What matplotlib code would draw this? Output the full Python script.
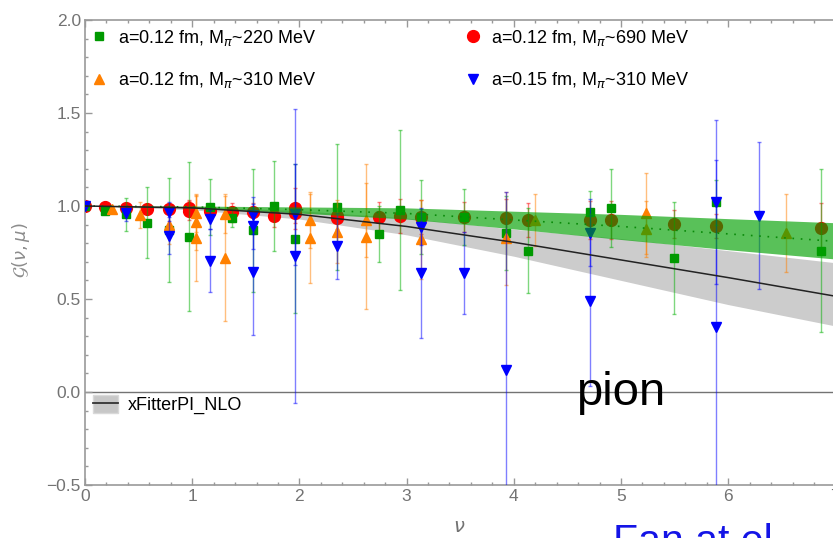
import matplotlib
matplotlib.use('Agg')
import matplotlib.pyplot as plt
from matplotlib.lines import Line2D
from matplotlib.patches import Patch
from matplotlib.ticker import MultipleLocator, FuncFormatter

plt.rcParams['font.family'] = ['Liberation Sans', 'DejaVu Sans']
plt.rcParams['mathtext.fontset'] = 'dejavusans'

# a=0.12 fm, M_pi~220 MeV (green squares)
green_nu = [0.0, 0.19, 0.38, 0.58, 0.78, 0.97, 1.17, 1.37, 1.57, 1.76, 1.96, 2.35,
            2.74, 2.94, 3.13, 3.54, 3.93, 4.13, 4.71, 4.91, 5.49, 5.89, 6.87]
green_val = [1.0, 0.975, 0.955, 0.91, 0.87, 0.835, 0.995, 0.935, 0.87, 1.0, 0.825, 0.995,
             0.85, 0.98, 0.94, 0.94, 0.855, 0.76, 0.97, 0.99, 0.72, 1.02, 0.76]
green_err = [0.005, 0.02, 0.09, 0.19, 0.28, 0.40, 0.15, 0.05, 0.33, 0.24, 0.40, 0.34,
             0.15, 0.43, 0.20, 0.15, 0.20, 0.23, 0.11, 0.21, 0.30, 0.12, 0.44]

# a=0.12 fm, M_pi~690 MeV (red circles)
red_nu = [0.0, 0.19, 0.38, 0.58, 0.78, 0.97, 0.97, 1.17, 1.37, 1.57, 1.76, 1.96, 1.96,
          2.35, 2.35, 2.74, 2.94, 3.13, 3.54, 3.93, 4.13, 4.71, 4.91, 5.49, 5.89, 6.87]
red_val = [1.0, 0.993, 0.988, 0.985, 0.985, 0.99, 0.975, 0.973, 0.966, 0.966, 0.948, 0.988, 0.96,
           0.948, 0.935, 0.939, 0.946, 0.94, 0.94, 0.935, 0.925, 0.925, 0.925, 0.903, 0.892, 0.88]
red_err = [0.003, 0.01, 0.015, 0.02, 0.03, 0.04, 0.05, 0.04, 0.05, 0.05, 0.06, 0.11, 0.05,
           0.07, 0.07, 0.08, 0.09, 0.09, 0.08, 0.10, 0.09, 0.10, 0.10, 0.075, 0.065, 0.136]

# a=0.12 fm, M_pi~310 MeV (orange triangles)
orange_nu = [0.25, 0.51, 0.78, 1.04, 1.04, 1.04, 1.31, 1.31, 2.1, 2.1, 2.35, 2.62, 2.62,
             3.13, 3.93, 4.2, 5.23, 5.23, 6.54]
orange_val = [0.984, 0.95, 0.898, 0.96, 0.915, 0.826, 0.955, 0.722, 0.925, 0.826, 0.862, 0.925, 0.835,
              0.82, 0.826, 0.925, 0.96, 0.875, 0.855]
orange_err = [0.01, 0.07, 0.10, 0.10, 0.15, 0.23, 0.10, 0.34, 0.15, 0.24, 0.17, 0.20, 0.39,
              0.21, 0.25, 0.14, 0.22, 0.15, 0.21]

# a=0.15 fm, M_pi~310 MeV (blue down triangles)
blue_nu = [0.0, 0.38, 0.78, 0.78, 1.17, 1.17, 1.57, 1.57, 1.57, 1.96, 1.96, 2.35,
           3.13, 3.13, 3.54, 3.93, 4.71, 4.71, 5.89, 5.89, 6.29]
blue_val = [1.0, 0.96, 0.97, 0.84, 0.928, 0.706, 0.95, 0.89, 0.647, 0.955, 0.731, 0.785,
            0.889, 0.638, 0.641, 0.117, 0.857, 0.49, 1.023, 0.35, 0.948]
blue_err = [0.005, 0.04, 0.05, 0.10, 0.05, 0.17, 0.10, 0.12, 0.34, 0.27, 0.79, 0.18,
            0.10, 0.345, 0.22, 0.96, 0.18, 0.46, 0.44, 0.90, 0.395]

# xFitterPI_NLO curve and band
fit_nu = [0, 1, 2, 3, 4, 5, 6, 7]
fit_center = [1.0, 0.99, 0.955, 0.89, 0.805, 0.71, 0.615, 0.515]
fit_upper = [1.0, 0.997, 0.975, 0.935, 0.875, 0.825, 0.76, 0.695]
fit_lower = [1.0, 0.98, 0.93, 0.845, 0.73, 0.60, 0.47, 0.355]

# lattice fit band (green)
lat_center = [1.0, 0.995, 0.98, 0.96, 0.925, 0.89, 0.85, 0.81]
lat_upper = [1.0, 1.0, 0.995, 0.99, 0.972, 0.955, 0.932, 0.91]
lat_lower = [1.0, 0.99, 0.962, 0.93, 0.877, 0.82, 0.765, 0.715]

labels = ['a=0.12 fm, M$_{\\pi}$~220 MeV', 'a=0.12 fm, M$_{\\pi}$~310 MeV',
          'a=0.12 fm, M$_{\\pi}$~690 MeV', 'a=0.15 fm, M$_{\\pi}$~310 MeV']

fig = plt.figure(figsize=(8.33, 5.38), dpi=100)
ax = fig.add_axes([85 / 833, 53 / 538, 750.4 / 833, 465 / 538])


def draw_series(nu, val, err, color, ecolor, marker, ms, z):
    ax.errorbar(nu, val, yerr=err, fmt='none', ecolor=ecolor, elinewidth=1.0,
                capsize=1.5, capthick=1.0, alpha=0.5, zorder=z)
    ax.plot(nu, val, ls='none', marker=marker, ms=ms, color=color,
            mec=color, zorder=z + 0.5)


ax.axhline(0, color='0.45', lw=1.0, zorder=0.5)
ax.fill_between(fit_nu, fit_lower, fit_upper, color='0.8', lw=0, zorder=1)

draw_series(red_nu, red_val, red_err, '#ff0000', '#ff0000', 'o', 8.5, 2)
draw_series(green_nu, green_val, green_err, '#009900', '#00b000', 's', 5.5, 3)
draw_series(orange_nu, orange_val, orange_err, '#ff8000', '#ff8000', '^', 6.5, 3.5)
draw_series(blue_nu, blue_val, blue_err, '#0000ff', '#0000ff', 'v', 7, 4)

ax.fill_between(fit_nu, lat_lower, lat_upper, color='#00a000', alpha=0.65, lw=0, zorder=5)
ax.plot(fit_nu, lat_center, color='#0a8a0a', lw=1.2, ls=(0, (1, 4)), zorder=6)
ax.plot(fit_nu, fit_center, color='#222222', lw=1.1, zorder=6)

ax.set_xlim(0, 7)
ax.set_ylim(-0.5, 2.0)
ax.xaxis.set_major_locator(MultipleLocator(1))
ax.xaxis.set_minor_locator(MultipleLocator(0.2))
ax.yaxis.set_major_locator(MultipleLocator(0.5))
ax.yaxis.set_minor_locator(MultipleLocator(0.1))
ax.yaxis.set_major_formatter(FuncFormatter(lambda v, pos: f'{v:.1f}'.replace('-', '\u2212')))
ax.tick_params(which='both', direction='in', top=True, right=False, colors='0.6',
               labelcolor='0.45', labelsize=12.5, width=1.0)
ax.tick_params(which='major', length=5, pad=3)
ax.tick_params(which='minor', length=2.5)
for s in ax.spines.values():
    s.set_color('0.6')
    s.set_linewidth(1.2)

# top legends
h_green = Line2D([], [], ls='none', marker='s', ms=5.5, color='#009900')
h_orange = Line2D([], [], ls='none', marker='^', ms=6.5, color='#ff8000')
h_red = Line2D([], [], ls='none', marker='o', ms=8.5, color='#ff0000')
h_blue = Line2D([], [], ls='none', marker='v', ms=7, color='#0000ff')
leg_kw = dict(frameon=False, fontsize=13, handlelength=1.0, handletextpad=0.5,
              labelspacing=1.25, borderpad=0.3, borderaxespad=0, loc='upper left')
leg1 = ax.legend([h_green, h_orange], labels[:2], bbox_to_anchor=(0.0, 0.995), **leg_kw)
ax.add_artist(leg1)
leg2 = ax.legend([h_red, h_blue], labels[2:], bbox_to_anchor=(0.498, 0.995), **leg_kw)
ax.add_artist(leg2)

fit_handle = (Patch(facecolor='0.78', edgecolor='0.85'), Line2D([], [], color='#333333', lw=1.3))
ax.legend([fit_handle], ['xFitterPI_NLO'],
          frameon=False, fontsize=13, handlelength=1.4, handleheight=1.15, handletextpad=0.5,
          borderpad=0.3, borderaxespad=0, loc='upper left', bbox_to_anchor=(0.0035, 0.205))

ax.text(5.0, -0.07, 'pion', fontsize=34, ha='center', va='baseline', color='black', zorder=10)

fig.text(21 / 833, 1 - 250 / 538, r'$\mathcal{G}(\nu,\mu)$', rotation=90, color='0.55',
         fontsize=13, ha='center', va='center')
fig.text(459 / 833, 1 - 527 / 538, r'$\nu$', color='0.45', fontsize=14, ha='center', va='center')
fig.text(613 / 833, -0.028, 'Fan at el.', color='#1414e6', fontsize=29.5, ha='left', va='baseline')

fig.savefig('out.png', dpi=100)
